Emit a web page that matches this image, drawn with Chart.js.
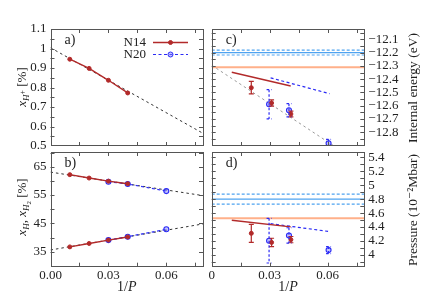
<!DOCTYPE html>
<html>
<head>
<meta charset="utf-8">
<script src="https://cdn.jsdelivr.net/npm/chart.js@4"></script>
<style>
html, body { margin: 0; padding: 0; background: #fff; }
#wrap { position: relative; width: 424px; height: 297px; }
#wrap canvas { position: absolute; left: 0; top: 0; }
</style>
</head>
<body>
<div id="wrap">
  <canvas id="pa" width="424" height="297"></canvas>
  <canvas id="pb" width="424" height="297"></canvas>
  <canvas id="pc" width="424" height="297"></canvas>
  <canvas id="pd" width="424" height="297"></canvas>
</div>
<script>
"use strict";

// 1/P-värden
const xN14 = [0.01, 0.02, 0.03, 0.04];
const xN20 = [0.03, 0.04, 0.06];
const xFit = [0, 0.079];

// a) andel joniserat väte
const ionN14 = [0.945, 0.898, 0.837, 0.772];
const ionFit = [1.004, 0.565];

// b) atomärt / molekylärt väte
const atomN14 = [62.2, 61.0, 59.9, 59.0];
const atomN20 = [59.7, 58.9, 56.4];
const atomFit = [63.1, 54.8];
const molN14 = [36.7, 37.9, 39.1, 40.2];
const molN20 = [39.1, 40.3, 42.9];
const molFit = [35.6, 44.8];

// c) inre energi (eV)
const xErrN14 = [0.0205, 0.031, 0.041];
const xErrN20 = [0.0297, 0.040, 0.0605];
const energyN14 = [-12.464, -12.579, -12.662];
const energyErrN14 = [0.047, 0.024, 0.022];
const energyN20 = [-12.589, -12.634, -12.882];
const energyErrN20 = [0.11, 0.05, 0.03];
const energyRef = [-12.2, -12.2];
const energyRefLow = [-12.218, -12.218];
const energyRefHigh = [-12.182, -12.182];
const energyOther = [-12.31, -12.31];
const energyExtrap = [-12.295, -13.053];
const xLineN14 = [0.0104, 0.0409];
const xLineN20 = [0.0305, 0.061];
const energyLineN14 = [-12.348, -12.451];
const energyLineN20 = [-12.39, -12.509];

// d) tryck (10^-2 Mbar)
const pressN14 = [4.31, 4.18, 4.22];
const pressErrN14 = [0.13, 0.06, 0.045];
const pressN20 = [4.205, 4.28, 4.07];
const pressErrN20 = [0.32, 0.11, 0.05];
const pressRef = [4.8, 4.8];
const pressRefLow = [4.728, 4.728];
const pressRefHigh = [4.872, 4.872];
const pressOther = [4.525, 4.525];
const pressLineN14 = [4.498, 4.403];
const pressLineN20 = [4.45, 4.335];

// tick-etiketter och tickmarkeringar
const xTickLabels = [0, 0.03, 0.06];
const xTickMarks = [0, 0.015, 0.03, 0.045, 0.06, 0.075];
const aTicks = [0.5, 0.6, 0.7, 0.8, 0.9, 1.0, 1.1];
const aMarks = [0.5, 0.55, 0.6, 0.65, 0.7, 0.75, 0.8, 0.85, 0.9, 0.95, 1.0, 1.05, 1.1];
const bTicks = [35, 45, 55, 65];
const bMarks = [35, 40, 45, 50, 55, 60, 65, 70];
const cTicks = [-12.8, -12.7, -12.6, -12.5, -12.4, -12.3, -12.2, -12.1];
const cMarks = [-12.9, -12.85, -12.8, -12.75, -12.7, -12.65, -12.6, -12.55, -12.5, -12.45, -12.4,
                -12.35, -12.3, -12.25, -12.2, -12.15, -12.1, -12.05];
const dTicks = [4, 4.2, 4.4, 4.6, 4.8, 5, 5.2, 5.4];
const dMarks = [3.9, 4, 4.1, 4.2, 4.3, 4.4, 4.5, 4.6, 4.7, 4.8, 4.9, 5, 5.1, 5.2, 5.3, 5.4];

const red = '#b22a2a';
const blue = '#2b2bf5';
const blueFill = 'rgba(120,120,255,0.45)';
const skyBlue = '#4ea3f0';
const orange = '#ffb08a';
const SERIF = "'Liberation Serif', 'DejaVu Serif', serif";
const tickFont = { family: SERIF, size: 13 };

const pts = (xs, ys) => xs.map((x, i) => ({ x: x, y: ys[i] }));

// Ram och inåtriktade tickmarkeringar
const framePlugin = {
    id: 'frame',
    afterDraw(chart) {
        const { ctx, chartArea: a, scales } = chart;
        const o = chart.options.plugins.frame;
        ctx.save();
        ctx.strokeStyle = '#555';
        ctx.lineWidth = 1;
        ctx.strokeRect(Math.round(a.left) + 0.5, Math.round(a.top) + 0.5,
            Math.round(a.right - a.left) - 1, Math.round(a.bottom - a.top) - 1);
        ctx.beginPath();
        o.xMarks.forEach(v => {
            const px = Math.round(scales.x.getPixelForValue(v)) + 0.5;
            ctx.moveTo(px, a.bottom); ctx.lineTo(px, a.bottom - 4);
            ctx.moveTo(px, a.top); ctx.lineTo(px, a.top + 4);
        });
        o.yMarks.forEach(v => {
            const py = Math.round(scales.y.getPixelForValue(v)) + 0.5;
            if (py < a.top + 1 || py > a.bottom - 1) return;
            ctx.moveTo(a.left, py); ctx.lineTo(a.left + 4, py);
            ctx.moveTo(a.right, py); ctx.lineTo(a.right - 4, py);
        });
        ctx.stroke();
        ctx.restore();
    }
};

// Felstaplar
const errorBarPlugin = {
    id: 'errorBars',
    afterDatasetsDraw(chart) {
        const { ctx, chartArea: a, scales: { x, y } } = chart;
        ctx.save();
        ctx.beginPath();
        ctx.rect(a.left, a.top, a.right - a.left, a.bottom - a.top);
        ctx.clip();
        chart.data.datasets.forEach(ds => {
            if (!ds.errors) return;
            ctx.strokeStyle = ds.borderColor;
            ctx.lineWidth = 1.2;
            ctx.setLineDash(ds.errDash || []);
            ds.data.forEach((p, j) => {
                const px = x.getPixelForValue(p.x);
                const top = y.getPixelForValue(p.y + ds.errors[j]);
                const bot = y.getPixelForValue(p.y - ds.errors[j]);
                ctx.beginPath();
                ctx.moveTo(px, top); ctx.lineTo(px, bot);
                ctx.moveTo(px - 2.5, top); ctx.lineTo(px + 2.5, top);
                ctx.moveTo(px - 2.5, bot); ctx.lineTo(px + 2.5, bot);
                ctx.stroke();
            });
        });
        ctx.restore();
    }
};

// Text med sänkta/upphöjda delar, centrerad kring (x, y)
function richText(ctx, parts, x, y, rot) {
    const fontOf = p => (p.it ? 'italic ' : '') + p.s + 'px ' + SERIF;
    ctx.save();
    ctx.translate(x, y);
    ctx.rotate(rot || 0);
    ctx.fillStyle = '#222';
    ctx.textAlign = 'left';
    ctx.textBaseline = 'alphabetic';
    let w = 0;
    parts.forEach(p => { ctx.font = fontOf(p); w += ctx.measureText(p.t).width; });
    let cx = -w / 2;
    parts.forEach(p => {
        ctx.font = fontOf(p);
        ctx.fillText(p.t, cx, 4.5 + (p.dy || 0));
        cx += ctx.measureText(p.t).width;
    });
    ctx.restore();
}

function decoPlugin(draw) {
    return { id: 'deco', afterDraw(chart) { draw(chart.ctx, chart.chartArea, chart); } };
}

// Legend inne i panel a
function drawLegend(ctx, a, chart) {
    const entries = chart.data.datasets.filter(ds => ds.legend);
    entries.forEach((ds, i) => {
        const yy = a.top + 13.5 + i * 12;
        ctx.save();
        ctx.fillStyle = '#222';
        ctx.font = '13px ' + SERIF;
        ctx.textAlign = 'right';
        ctx.textBaseline = 'middle';
        ctx.fillText(ds.label, a.right - 57, yy + 0.5);
        ctx.strokeStyle = ds.borderColor;
        ctx.lineWidth = ds.borderWidth;
        ctx.setLineDash(ds.borderDash || []);
        ctx.beginPath();
        ctx.moveTo(a.right - 50, yy); ctx.lineTo(a.right - 15, yy);
        ctx.stroke();
        ctx.setLineDash([]);
        ctx.beginPath();
        ctx.arc(a.right - 32.5, yy, ds.pointRadius, 0, Math.PI * 2);
        ctx.fillStyle = ds.pointBackgroundColor || ds.backgroundColor;
        ctx.fill();
        ctx.lineWidth = 1;
        ctx.stroke();
        ctx.restore();
    });
}

function panelLabel(ctx, a, text) {
    ctx.save();
    ctx.fillStyle = '#222';
    ctx.font = '14px ' + SERIF;
    ctx.textBaseline = 'middle';
    ctx.fillText(text, a.left + 14, a.top + 11);
    ctx.restore();
}

function lineSet(xs, ys, color, width, dash) {
    return { data: pts(xs, ys), showLine: true, borderColor: color, backgroundColor: color,
             borderWidth: width, borderDash: dash || [], pointRadius: 0 };
}
function n14Set(xs, ys, line, errors) {
    return { label: 'N14', data: pts(xs, ys), showLine: line, borderColor: red, backgroundColor: red,
             borderWidth: 1.4, pointRadius: 2, pointBorderWidth: 1, errors: errors };
}
function n20Set(xs, ys, line, errors) {
    return { label: 'N20', data: pts(xs, ys), showLine: line, borderColor: blue, backgroundColor: blueFill,
             pointBackgroundColor: blueFill, borderWidth: 1.2, borderDash: [3, 2.5], pointRadius: 2.5,
             pointBorderWidth: 1.1, errors: errors, errDash: [2.5, 2] };
}

function panel(id, cfg) {
    return new Chart(document.getElementById(id), {
        type: 'scatter',
        data: { datasets: cfg.datasets },
        options: {
            responsive: false,
            animation: false,
            events: [],
            layout: { padding: cfg.padding },
            elements: { line: { tension: 0 } },
            plugins: {
                legend: { display: false },
                tooltip: { enabled: false },
                frame: { xMarks: xTickMarks, yMarks: cfg.yMarks }
            },
            scales: {
                x: {
                    type: 'linear', min: 0, max: 0.079,
                    grid: { display: false, drawTicks: false },
                    border: { display: false },
                    afterBuildTicks: ax => { ax.ticks = xTickLabels.map(v => ({ value: v })); },
                    afterFit: ax => { ax.height = cfg.xHeight; },
                    ticks: { display: !!cfg.xFormat, autoSkip: false, maxRotation: 0, padding: 1,
                             font: tickFont, color: '#222', callback: cfg.xFormat }
                },
                y: {
                    type: 'linear', position: cfg.yPos, min: cfg.yMin, max: cfg.yMax,
                    grid: { display: false, drawTicks: false },
                    border: { display: false },
                    afterBuildTicks: ax => { ax.ticks = cfg.yTicks.map(v => ({ value: v })); },
                    afterFit: ax => { ax.width = cfg.yWidth; },
                    ticks: { autoSkip: false, padding: 4, font: tickFont, color: '#222', callback: cfg.yFormat }
                }
            }
        },
        plugins: [framePlugin, errorBarPlugin, decoPlugin(cfg.deco)]
    });
}

const plain = v => String(+v.toFixed(2));

// a)
const n20Legend = n20Set([], [], true);
n20Legend.legend = true;
const n14a = n14Set(xN14, ionN14, true);
n14a.legend = true;
panel('pa', {
    padding: { left: 0, right: 221, top: 29, bottom: 151 },
    xHeight: 0, yWidth: 50.5, yPos: 'left', yMin: 0.5, yMax: 1.1,
    yTicks: aTicks, yMarks: aMarks, yFormat: plain,
    datasets: [n14a, n20Legend, lineSet(xFit, ionFit, '#333', 1, [2.5, 3])],
    deco: (ctx, a, chart) => {
        panelLabel(ctx, a, 'a)');
        drawLegend(ctx, a, chart);
        richText(ctx, [
            { t: 'x', s: 13, it: true },
            { t: 'H', s: 9, it: true, dy: 3 },
            { t: '+', s: 8, dy: -1 },
            { t: ' [%]', s: 13 }
        ], 21, 87, -Math.PI / 2);
    }
});

// b)
panel('pb', {
    padding: { left: 0, right: 221, top: 152, bottom: 0 },
    xHeight: 30.3, yWidth: 50.5, yPos: 'left', yMin: 29.7, yMax: 70.2,
    yTicks: bTicks, yMarks: bMarks, yFormat: plain,
    xFormat: v => v.toFixed(2),
    datasets: [
        n14Set(xN14, atomN14, true), n14Set(xN14, molN14, true),
        n20Set(xN20, atomN20, true), n20Set(xN20, molN20, true),
        lineSet(xFit, atomFit, '#333', 1, [2.5, 3]),
        lineSet(xFit, molFit, '#333', 1, [2.5, 3])
    ],
    deco: (ctx, a) => {
        panelLabel(ctx, a, 'b)');
        richText(ctx, [
            { t: 'x', s: 13, it: true },
            { t: 'H', s: 9, it: true, dy: 3 },
            { t: ', ', s: 13 },
            { t: 'x', s: 13, it: true },
            { t: 'H', s: 9, it: true, dy: 3 },
            { t: '2', s: 7, dy: 5 },
            { t: ' [%]', s: 13 }
        ], 21, 207, -Math.PI / 2);
        richText(ctx, [{ t: '1/', s: 14 }, { t: 'P', s: 14, it: true }], (a.left + a.right) / 2, 286);
    }
});

// c)
panel('pc', {
    padding: { left: 211.7, right: 0, top: 29, bottom: 151 },
    xHeight: 0, yWidth: 59.7, yPos: 'right', yMin: -12.9025, yMax: -12.0225,
    yTicks: cTicks, yMarks: cMarks,
    yFormat: v => '\u2212' + Math.abs(v).toFixed(1),
    datasets: [
        n14Set(xErrN14, energyN14, false, energyErrN14),
        n20Set(xErrN20, energyN20, false, energyErrN20),
        lineSet(xLineN14, energyLineN14, red, 1.4),
        lineSet(xLineN20, energyLineN20, blue, 1.2, [3, 2.5]),
        lineSet(xFit, energyRef, skyBlue, 1.2),
        lineSet(xFit, energyRefLow, skyBlue, 1.2, [3, 2]),
        lineSet(xFit, energyRefHigh, skyBlue, 1.2, [3, 2]),
        lineSet(xFit, energyOther, orange, 2),
        lineSet(xFit, energyExtrap, '#9a9a9a', 1, [2.5, 3])
    ],
    deco: (ctx, a) => {
        panelLabel(ctx, a, 'c)');
        richText(ctx, [{ t: 'Internal energy (eV)', s: 13.5 }], 412, 88, -Math.PI / 2);
    }
});

// d)
panel('pd', {
    padding: { left: 211.7, right: 0, top: 152, bottom: 0 },
    xHeight: 30.3, yWidth: 59.7, yPos: 'right', yMin: 3.832, yMax: 5.476,
    yTicks: dTicks, yMarks: dMarks, yFormat: plain,
    xFormat: v => (v === 0 ? '0' : v.toFixed(2)),
    datasets: [
        n14Set(xErrN14, pressN14, false, pressErrN14),
        n20Set(xErrN20, pressN20, false, pressErrN20),
        lineSet(xLineN14, pressLineN14, red, 1.4),
        lineSet(xLineN20, pressLineN20, blue, 1.2, [3, 2.5]),
        lineSet(xFit, pressRef, skyBlue, 1.2),
        lineSet(xFit, pressRefLow, skyBlue, 1.2, [3, 2]),
        lineSet(xFit, pressRefHigh, skyBlue, 1.2, [3, 2]),
        lineSet(xFit, pressOther, orange, 2)
    ],
    deco: (ctx, a) => {
        panelLabel(ctx, a, 'd)');
        richText(ctx, [{ t: 'Pressure (10\u207B\u00B2Mbar)', s: 13.5 }], 412, 210, -Math.PI / 2);
        richText(ctx, [{ t: '1/', s: 14 }, { t: 'P', s: 14, it: true }], (a.left + a.right) / 2, 286);
    }
});
</script>
</body>
</html>
